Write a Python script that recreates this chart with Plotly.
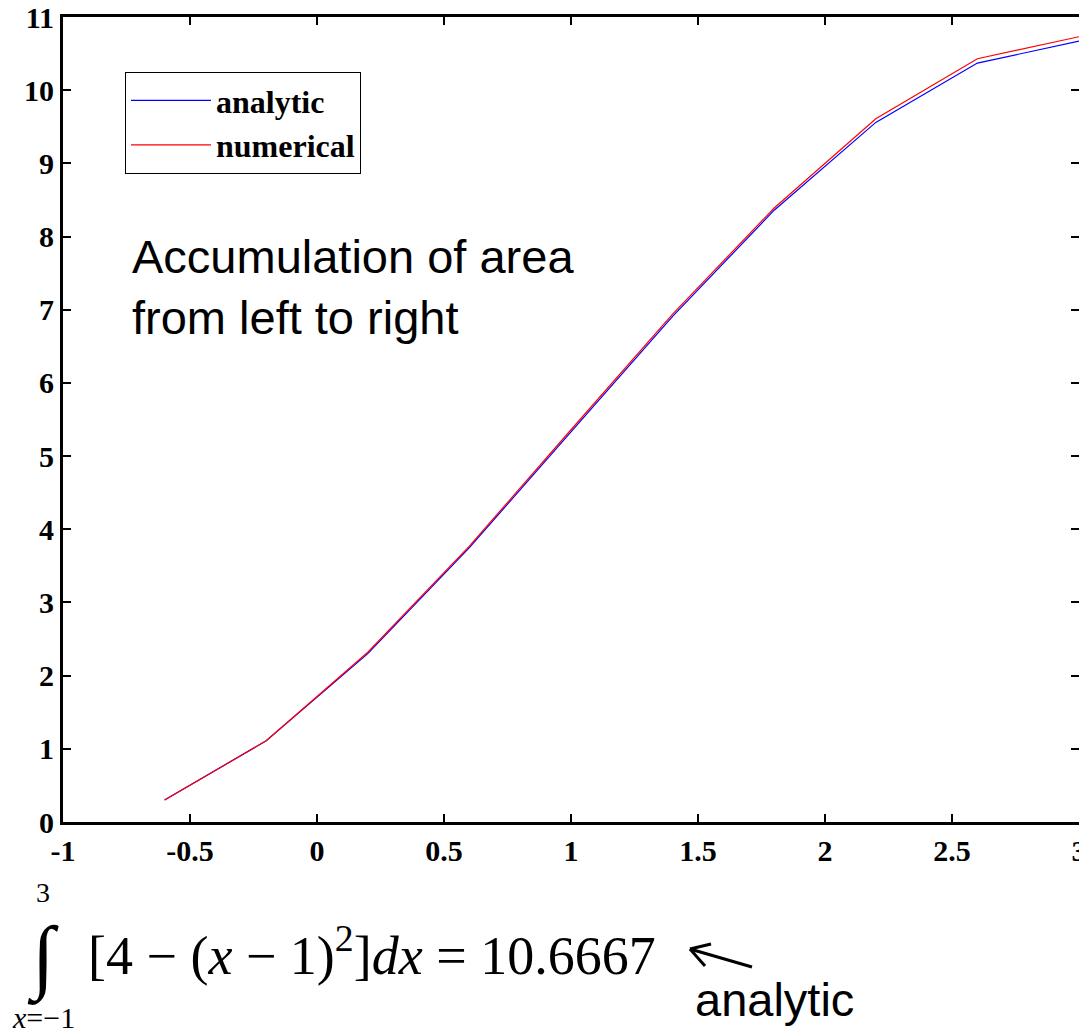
import plotly.graph_objects as go

# ---- data ----
x_vals = [-0.6, -0.2, 0.2, 0.6, 1.0, 1.4, 1.8, 2.2, 2.6, 3.0]
analytic = [0.30, 1.11, 2.30, 3.75, 5.33, 6.91, 8.36, 9.56, 10.37, 10.67]
numerical = [0.30, 1.11, 2.32, 3.77, 5.36, 6.94, 8.39, 9.61, 10.43, 10.73]
x_ticks = [-1, -0.5, 0, 0.5, 1, 1.5, 2, 2.5, 3]
x_ticklabels = ["-1", "-0.5", "0", "0.5", "1", "1.5", "2", "2.5", "3"]
y_ticks = list(range(0, 12))
y_ticklabels = [str(v) for v in y_ticks]

W, H = 1079, 1033
L, R, T, B = 63, 0, 17, 211
PW, PH = W - L - R, H - T - B


def px(xp):
    return (xp - L) / PW


def py(yp):
    return (H - B - yp) / PH


SERIF = "Liberation Serif, Times New Roman, serif"
SANS = "Liberation Sans, Arial, sans-serif"

fig = go.Figure()
fig.add_trace(go.Scatter(x=x_vals, y=analytic, mode="lines", name="analytic",
                         line=dict(color="#0000ff", width=1.2)))
fig.add_trace(go.Scatter(x=x_vals, y=numerical, mode="lines", name="numerical",
                         line=dict(color="#ff0000", width=1.2)))
# helper trace so the right-hand tick axis is drawn
fig.add_trace(go.Scatter(x=x_vals, y=analytic, mode="lines", yaxis="y2",
                         line=dict(width=0, color="rgba(0,0,0,0)"),
                         showlegend=False, hoverinfo="skip"))

tickfont = dict(family=SERIF, size=30, color="black", weight="bold")

fig.update_layout(
    width=W, height=H,
    margin=dict(l=L, r=R, t=T, b=B, pad=0, autoexpand=False),
    paper_bgcolor="white", plot_bgcolor="white",
    showlegend=True,
    legend=dict(x=px(125), y=py(72), xref="paper", yref="paper",
                xanchor="left", yanchor="top",
                bgcolor="white", bordercolor="black", borderwidth=1,
                font=dict(family=SERIF, size=32, color="black", weight="bold"),
                itemwidth=80, tracegroupgap=0),
    xaxis=dict(range=[-1, 3], tickvals=x_ticks, ticktext=x_ticklabels,
               ticks="inside", ticklen=8, tickwidth=2, tickcolor="black",
               showline=True, linewidth=3, linecolor="black", mirror="ticks",
               showgrid=False, zeroline=False, tickfont=tickfont,
               ticklabeloverflow="allow", automargin=False),
    yaxis=dict(range=[0, 11], tickvals=y_ticks, ticktext=y_ticklabels,
               ticks="inside", ticklen=8, tickwidth=2, tickcolor="black",
               showline=True, linewidth=3, linecolor="black",
               showgrid=False, zeroline=False, tickfont=tickfont,
               automargin=False),
    yaxis2=dict(range=[0, 11], tickvals=y_ticks, overlaying="y", side="right",
                ticks="inside", ticklen=8, tickwidth=2, tickcolor="black",
                showline=False, showticklabels=False, showgrid=False,
                zeroline=False, automargin=False),
)

annotations = [
    dict(text="Accumulation of area<br>from left to right", x=px(130), y=py(287),
         xanchor="left", yanchor="middle", align="left", showarrow=False,
         font=dict(family=SANS, size=47, color="black")),
    dict(text="∫", x=px(43), y=py(957), xanchor="center", yanchor="middle",
         showarrow=False, font=dict(family=SERIF, size=82, color="black")),
    dict(text="3", x=px(43), y=py(892), xanchor="center", yanchor="middle",
         showarrow=False, font=dict(family=SERIF, size=28, color="black")),
    dict(text="<i>x</i>=−1", x=px(43), y=py(1017), xanchor="center", yanchor="middle",
         showarrow=False, font=dict(family=SERIF, size=30, color="black")),
    dict(text="[4 − (<i>x</i> − 1)<sup>2</sup>]<i>dx</i> = 10.6667",
         x=px(86), y=py(951), xanchor="left", yanchor="middle", showarrow=False,
         font=dict(family=SERIF, size=54, color="black")),
    dict(text="analytic", x=px(774), y=py(1000), xanchor="center", yanchor="middle",
         showarrow=False, font=dict(family=SANS, size=47, color="black")),
]
for a in annotations:
    a["xref"] = "paper"
    a["yref"] = "paper"
fig.update_layout(annotations=annotations)

# arrow (open V head)
arrow_lines = [((752, 967), (690, 949)), ((690, 949), (705, 966)), ((690, 949), (711, 944))]
shapes = []
for (x0, y0), (x1, y1) in arrow_lines:
    shapes.append(dict(type="line", xref="paper", yref="paper",
                       x0=px(x0), y0=py(y0), x1=px(x1), y1=py(y1),
                       line=dict(color="black", width=3)))
fig.update_layout(shapes=shapes)

fig.write_html(
    "out.html",
    config={"displayModeBar": False},
    post_script="document.body.style.margin='0';document.body.style.overflow='hidden';",
)
